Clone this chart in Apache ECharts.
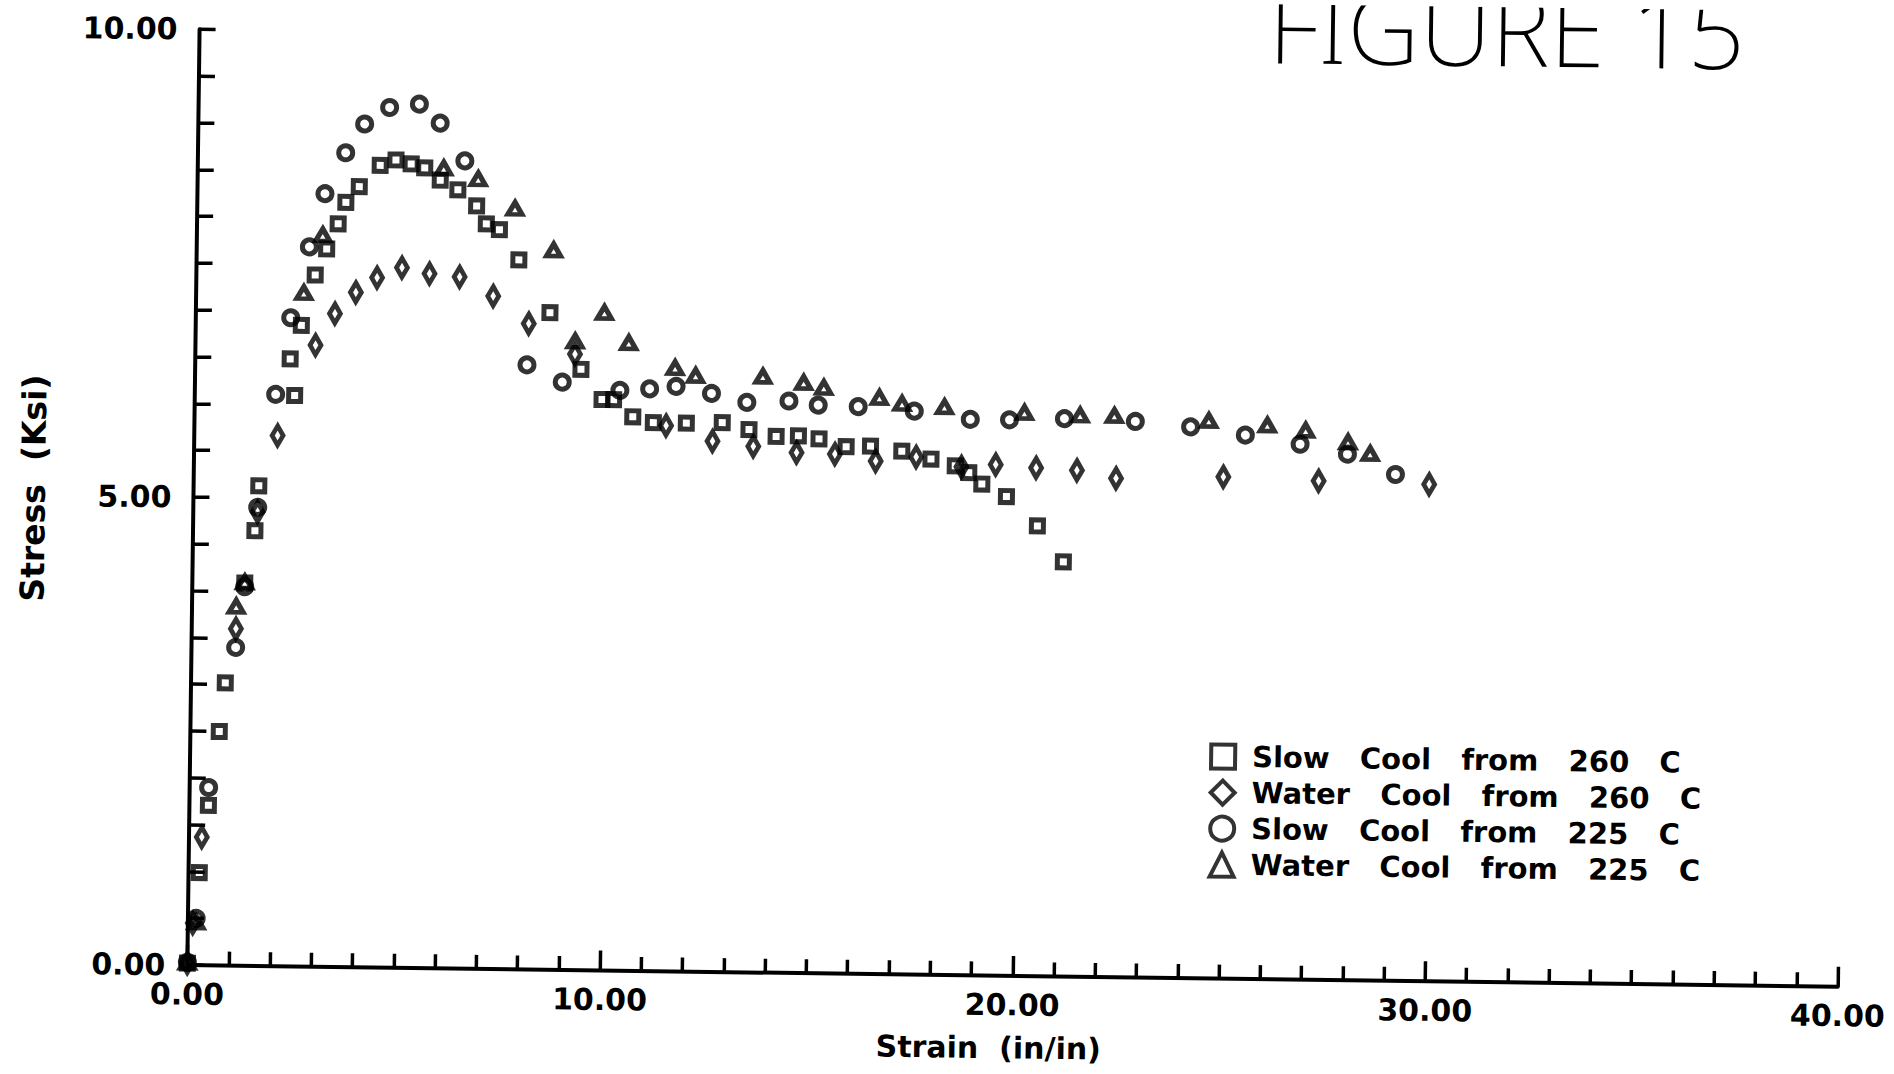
<!DOCTYPE html>
<html>
<head>
<meta charset="utf-8">
<title>Figure 15</title>
<script src="https://cdn.jsdelivr.net/npm/echarts@6/dist/echarts.min.js"></script>
<style>
    html, body { margin: 0; padding: 0; background: #fff; overflow: hidden; }
    /* the scanned figure is turned a little clockwise */
    #chart-div { width: 1894px; height: 1074px; transform: rotate(0.75deg); }
</style>
</head>
<body>
<div id="chart-div"></div>
<script>
// Slow Cool from 260 C (squares)
const slow260X = [0, 0.26, 0.46, 0.7, 0.83, 1.27, 1.5, 1.58, 2.3, 2.42, 2.56, 2.88, 3.15, 3.42, 3.6, 3.92, 4.42, 4.8, 5.17, 5.5,
    5.88, 6.31, 6.77, 7.01, 7.33, 7.81, 8.58, 9.35, 9.87, 10.15, 10.62, 11.12, 11.92, 12.79, 13.44, 14.1, 14.64, 15.14, 15.8, 16.39,
    17.15, 17.86, 18.45, 18.78, 19.1, 19.7, 20.46, 21.1];
const slow260Y = [0.02, 0.99, 1.71, 2.5, 3.02, 4.09, 4.65, 5.13, 6.49, 6.1, 6.85, 7.39, 7.67, 7.94, 8.17, 8.34, 8.57, 8.63, 8.59, 8.55,
    8.42, 8.32, 8.15, 7.96, 7.9, 7.58, 7.02, 6.42, 6.1, 6.1, 5.92, 5.86, 5.86, 5.87, 5.8, 5.73, 5.74, 5.71, 5.63, 5.64,
    5.59, 5.51, 5.44, 5.37, 5.25, 5.12, 4.81, 4.43];

// Water Cool from 260 C (diamonds)
const water260X = [0, 0.12, 0.31, 1.07, 1.56, 2.02, 2.91, 3.37, 3.87, 4.38, 4.98, 5.65, 6.38, 7.2, 8.07, 9.2, 11.43, 12.56, 13.55, 14.6,
    15.53, 16.52, 17.5, 18.6, 19.43, 20.41, 21.4, 22.35, 24.95, 27.26, 29.94];
const water260Y = [0.02, 0.45, 1.37, 3.6, 4.85, 5.67, 6.64, 6.98, 7.21, 7.37, 7.48, 7.42, 7.39, 7.19, 6.9, 6.58, 5.83, 5.67, 5.62, 5.56,
    5.55, 5.48, 5.53, 5.43, 5.46, 5.43, 5.41, 5.33, 5.36, 5.33, 5.31];

// Slow Cool from 225 C (circles)
const slow225X = [0, 0.2, 0.46, 1.07, 1.27, 1.56, 1.96, 2.3, 2.73, 3.09, 3.58, 4.03, 4.63, 5.35, 5.86, 6.47, 8.04, 8.9, 10.3, 11.02,
    11.66, 12.52, 13.38, 14.4, 15.11, 16.08, 17.44, 18.8, 19.75, 21.08, 22.8, 24.14, 25.47, 26.8, 27.95, 29.12];
const slow225Y = [0.03, 0.5, 1.9, 3.4, 4.05, 4.9, 6.11, 6.93, 7.69, 8.26, 8.7, 9.01, 9.19, 9.23, 9.03, 8.63, 6.46, 6.28, 6.2, 6.22,
    6.25, 6.18, 6.09, 6.11, 6.07, 6.06, 6.02, 5.94, 5.94, 5.96, 5.94, 5.89, 5.81, 5.72, 5.62, 5.41];

// Water Cool from 225 C (triangles)
const water225X = [0, 0.2, 1.07, 1.27, 2.61, 3.05, 5.96, 6.8, 7.7, 8.65, 9.2, 9.9, 10.5, 11.63, 12.13, 13.76, 14.75, 15.24, 16.59, 17.14,
    18.17, 20.11, 21.46, 22.29, 24.58, 26.0, 26.93, 27.96, 28.5];
const water225Y = [0.03, 0.46, 3.84, 4.1, 7.2, 7.82, 8.55, 8.44, 8.13, 7.69, 6.72, 7.03, 6.71, 6.45, 6.37, 6.37, 6.31, 6.26, 6.16, 6.1,
    6.07, 6.02, 6.0, 6.0, 5.96, 5.92, 5.87, 5.75, 5.63];

const seriesNames = ['Slow Cool from 260 C', 'Water Cool from 260 C', 'Slow Cool from 225 C', 'Water Cool from 225 C'];

const FONT = '"DejaVu Sans", sans-serif';

function zip(xs, ys) {
    return xs.map((x, i) => [x, ys[i]]);
}

function makeSeries(name, symbol, size, xs, ys) {
    return {
        name: name,
        type: 'scatter',
        symbol: symbol,
        symbolSize: size,
        itemStyle: { color: 'rgba(0,0,0,0)', borderColor: '#000', borderWidth: 5 },
        emphasis: { disabled: true },
        data: zip(xs, ys)
    };
}

let myChart = echarts.init(document.getElementById('chart-div'), null, { renderer: 'svg' });

const option = {
    animation: false,
    backgroundColor: '#fff',
    grid: { left: 193, right: 50, top: 39, bottom: 99 },
    xAxis: {
        type: 'value',
        min: 0,
        max: 40,
        interval: 10,
        axisLine: { show: true, onZero: false, lineStyle: { color: '#000', width: 4 } },
        axisTick: { show: true, inside: true, length: 20, lineStyle: { color: '#000', width: 3.5 } },
        minorTick: { show: true, splitNumber: 10, length: 14, lineStyle: { color: '#000', width: 3.5 } },
        splitLine: { show: false },
        axisLabel: {
            formatter: v => v.toFixed(2),
            fontFamily: FONT, fontWeight: 'bold', fontSize: 30, color: '#000', margin: 14
        }
    },
    yAxis: {
        type: 'value',
        min: 0,
        max: 10,
        interval: 5,
        axisLine: { show: true, onZero: false, lineStyle: { color: '#000', width: 4 } },
        axisTick: { show: true, inside: true, length: 16, lineStyle: { color: '#000', width: 3.5 } },
        minorTick: { show: true, splitNumber: 10, length: 16, lineStyle: { color: '#000', width: 3.5 } },
        splitLine: { show: false },
        axisLabel: {
            formatter: v => v.toFixed(2),
            fontFamily: FONT, fontWeight: 'bold', fontSize: 30, color: '#000', margin: 22
        }
    },
    legend: {
        orient: 'vertical',
        left: 1207,
        top: 731,
        itemWidth: 24,
        itemHeight: 24,
        itemGap: 2,
        selectedMode: false,
        itemStyle: { borderWidth: 4 },
        formatter: name => name.split(' ').join('\u00a0\u00a0\u00a0'),
        textStyle: {
            fontFamily: FONT, fontWeight: 'bold', fontSize: 29, lineHeight: 34, color: '#000',
            padding: [0, 0, 0, 12]
        },
        data: seriesNames
    },
    graphic: [
        {
            type: 'text', x: 1500, y: 20,
            style: {
                text: 'FIGURE 15', fill: '#000', fontFamily: '"Noto Sans", sans-serif', fontWeight: 200,
                fontSize: 100, textAlign: 'center', textVerticalAlign: 'middle'
            }
        },
        {
            type: 'text', x: 33, y: 500, rotation: Math.PI / 2,
            style: {
                text: 'Stress\u00a0\u00a0(Ksi)', fill: '#000', fontFamily: FONT, fontWeight: 'bold',
                fontSize: 33, textAlign: 'center', textVerticalAlign: 'middle'
            }
        },
        {
            type: 'text', x: 995, y: 1047,
            style: {
                text: 'Strain\u00a0\u00a0(in/in)', fill: '#000', fontFamily: FONT, fontWeight: 'bold',
                fontSize: 30, textAlign: 'center', textVerticalAlign: 'middle'
            }
        }
    ],
    series: [
        makeSeries(seriesNames[0], 'rect', 12, slow260X, slow260Y),
        makeSeries(seriesNames[1], 'diamond', [11, 19], water260X, water260Y),
        makeSeries(seriesNames[2], 'circle', 14, slow225X, slow225Y),
        makeSeries(seriesNames[3], 'triangle', [14, 12], water225X, water225Y)
    ]
};

myChart.setOption(option);
</script>
</body>
</html>
